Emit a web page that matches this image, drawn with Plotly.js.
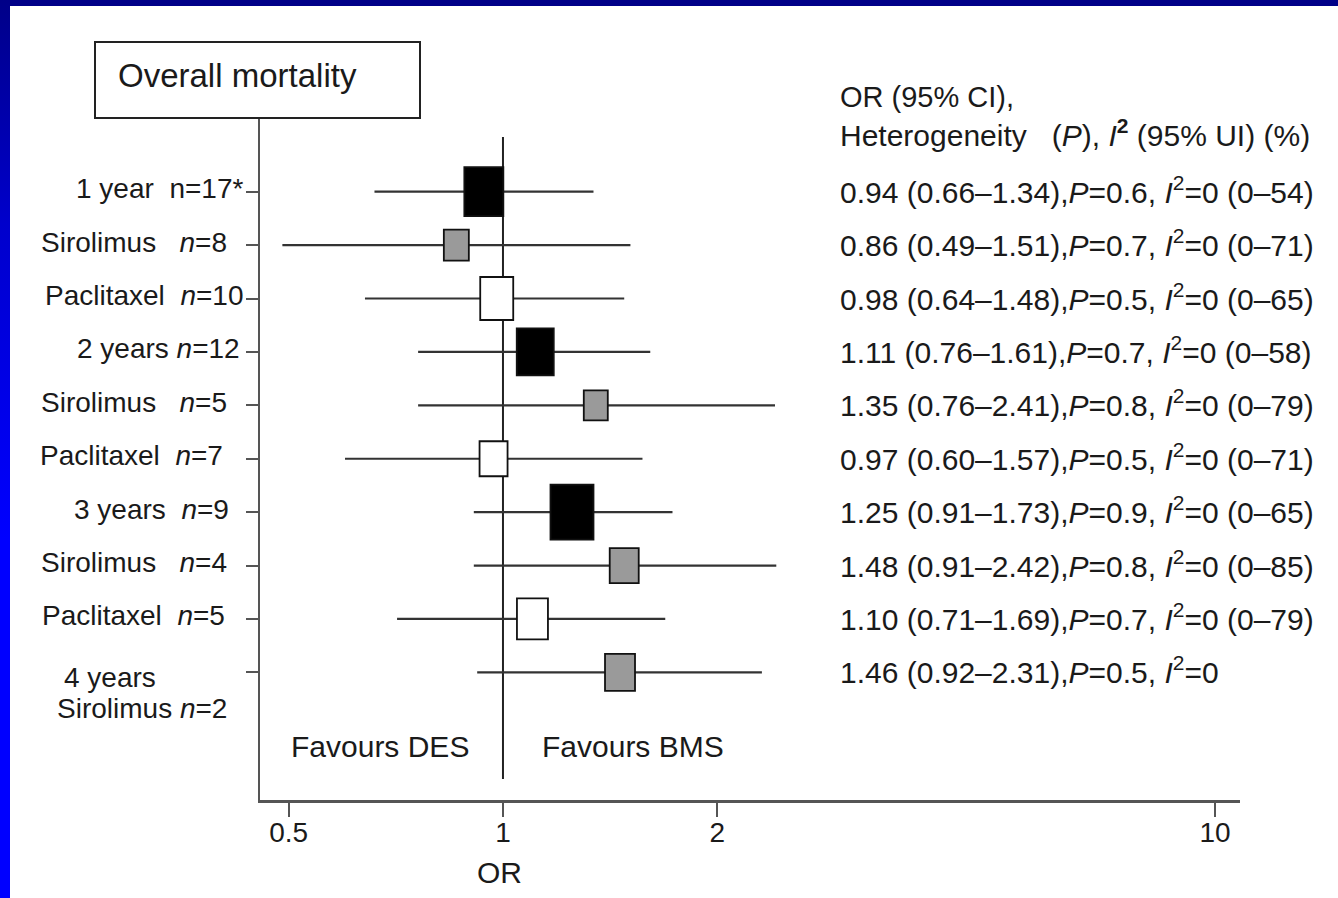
<!DOCTYPE html>
<html><head><meta charset="utf-8">
<script src="https://cdn.plot.ly/plotly-3.0.1.min.js"></script>
<style>
html,body{margin:0;padding:0;width:1338px;height:898px;overflow:hidden;background:#000088;}
#band{position:absolute;left:0;top:0;width:10px;height:898px;background:linear-gradient(to bottom,#000088 0%,#0000cc 25%,#0000ff 60%,#0000ff 100%);}
#chart{position:absolute;left:10px;top:6px;width:1328px;height:892px;background:#fff;}
</style></head><body><div id="band"></div><div id="chart"></div>
<script>
// ---- data ----
const rowLabels = [
  "1 year\u00A0 n=17*",
  "Sirolimus\u00A0\u00A0 <i>n</i>=8",
  "Paclitaxel\u00A0 <i>n</i>=10",
  "2 years <i>n</i>=12",
  "Sirolimus\u00A0\u00A0 <i>n</i>=5",
  "Paclitaxel\u00A0 <i>n</i>=7",
  "3 years\u00A0 <i>n</i>=9",
  "Sirolimus\u00A0\u00A0 <i>n</i>=4",
  "Paclitaxel\u00A0 <i>n</i>=5",
  "4 years"
];
const lastRowSubLabel = "Sirolimus <i>n</i>=2";
const rowGroups = ["overall","sirolimus","paclitaxel","overall","sirolimus","paclitaxel","overall","sirolimus","paclitaxel","sirolimus"];
const orValues = [0.94, 0.86, 0.98, 1.11, 1.35, 0.97, 1.25, 1.48, 1.10, 1.46];
const ciLower  = [0.66, 0.49, 0.64, 0.76, 0.76, 0.60, 0.91, 0.91, 0.71, 0.92];
const ciUpper  = [1.34, 1.51, 1.48, 1.61, 2.41, 1.57, 1.73, 2.42, 1.69, 2.31];
const pHet     = [0.6, 0.7, 0.5, 0.7, 0.8, 0.5, 0.9, 0.8, 0.7, 0.5];
const i2Value  = [0, 0, 0, 0, 0, 0, 0, 0, 0, 0];
const i2UiLow  = [0, 0, 0, 0, 0, 0, 0, 0, 0, null];
const i2UiHigh = [54, 71, 65, 58, 79, 71, 65, 85, 79, null];
const xTickVals = [0.5, 1, 2, 10];
const xTickText = ["0.5", "1", "2", "10"];
const headerLine1 = "OR (95% CI),";
const headerLine2 = "Heterogeneity\u00A0\u00A0 (<i>P</i>), <i>I</i><b><sup>2</sup></b> (95% UI) (%)";
const chartTitle = "Overall mortality";
const favoursLeft = "Favours DES";
const favoursRight = "Favours BMS";
const xAxisTitle = "OR";

// ---- styles ----
const FONT = '"Liberation Sans", Arial, Helvetica, sans-serif';
const TXT = '#1a1a1a';
const groupFill = {overall: '#000000', sirolimus: '#9a9a9a', paclitaxel: '#ffffff'};
const boxW = [39, 25, 33, 37, 24, 28, 43, 29, 31, 30];
const boxH = [49, 31, 43, 47, 30, 35, 55, 35, 41, 37];
const labelEndPx = [245, 229, 245, 242, 229, 225, 231, 229, 227];
// plot area in page px: x 260..1240, y 118..800
const PL = 260, PR = 1240, PT = 118, PB = 800;
const px2paperX = p => (p - PL) / (PR - PL);
const px2paperY = p => (PB - p) / (PB - PT);
const xRangeLog = [Math.log10(0.4558), Math.log10(10.84)];
const pxPerDecade = (PR - PL) / (xRangeLog[1] - xRangeLog[0]);
// widen a data value by a pixel offset along the log axis
const shiftLog = (v, dpx) => v * Math.pow(10, dpx / pxPerDecade);

const rows = orValues.map((_, i) => i);

// CI lines trace
const ciX = [], ciY = [];
rows.forEach(i => { ciX.push(ciLower[i], ciUpper[i], null); ciY.push(i, i, null); });
const traces = [{
  type: 'scatter', mode: 'lines', x: ciX, y: ciY,
  line: {color: '#333333', width: 2.2}, hoverinfo: 'skip', showlegend: false
}, {
  type: 'scatter', mode: 'markers', x: orValues, y: rows,
  marker: {size: 1, opacity: 0}, showlegend: false,
  hovertemplate: 'OR %{x}<extra></extra>'
}];

const shapes = [];
// reference line at OR = 1
shapes.push({type: 'line', xref: 'x', yref: 'paper', x0: 1, x1: 1,
  y0: px2paperY(779), y1: px2paperY(137), line: {color: '#222', width: 2}, layer: 'below'});
// boxes (weighted squares)
rows.forEach(i => {
  shapes.push({
    type: 'rect', xref: 'x', yref: 'y',
    ysizemode: 'pixel', yanchor: i,
    x0: shiftLog(orValues[i], -boxW[i] / 2), x1: shiftLog(orValues[i], boxW[i] / 2),
    y0: -boxH[i] / 2, y1: boxH[i] / 2,
    fillcolor: groupFill[rowGroups[i]], line: {color: '#111', width: 1.8}, layer: 'above'
  });
});
// title box
shapes.push({type: 'rect', xref: 'paper', yref: 'paper',
  x0: px2paperX(95), x1: px2paperX(420), y0: px2paperY(118), y1: px2paperY(42),
  line: {color: '#222', width: 2}, fillcolor: 'rgba(0,0,0,0)'});

const annotations = [];
annotations.push({xref: 'paper', yref: 'paper', x: px2paperX(116), y: px2paperY(75),
  xanchor: 'left', yanchor: 'middle', showarrow: false, text: chartTitle,
  font: {family: FONT, size: 33, color: TXT}});
// left labels
rows.slice(0, 9).forEach(i => {
  annotations.push({xref: 'paper', yref: 'y', x: px2paperX(labelEndPx[i]), y: i, yshift: 3,
    xanchor: 'right', yanchor: 'middle', showarrow: false, text: rowLabels[i],
    font: {family: FONT, size: 28, color: TXT}});
});
annotations.push({xref: 'paper', yref: 'y', x: px2paperX(62), y: 9, yshift: -5,
  xanchor: 'left', yanchor: 'middle', showarrow: false, text: rowLabels[9],
  font: {family: FONT, size: 28, color: TXT}});
annotations.push({xref: 'paper', yref: 'y', x: px2paperX(55), y: 9, yshift: -36,
  xanchor: 'left', yanchor: 'middle', showarrow: false, text: lastRowSubLabel,
  font: {family: FONT, size: 28, color: TXT}});
// right column
const fmt2 = v => v.toFixed(2);
rows.forEach(i => {
  let t = fmt2(orValues[i]) + ' (' + fmt2(ciLower[i]) + '\u2013' + fmt2(ciUpper[i]) + '),' +
    '<i>P</i>=' + pHet[i] + ', <i>I</i><sup>2</sup>=' + i2Value[i];
  if (i2UiLow[i] !== null) t += ' (' + i2UiLow[i] + '\u2013' + i2UiHigh[i] + ')';
  annotations.push({xref: 'paper', yref: 'y', x: px2paperX(838), y: i, yshift: 2,
    xanchor: 'left', yanchor: 'middle', showarrow: false, text: t,
    font: {family: FONT, size: 30, color: TXT}});
});
annotations.push({xref: 'paper', yref: 'paper', x: px2paperX(838), y: px2paperY(97),
  xanchor: 'left', yanchor: 'middle', showarrow: false, text: headerLine1,
  font: {family: FONT, size: 29, color: TXT}});
annotations.push({xref: 'paper', yref: 'paper', x: px2paperX(838), y: px2paperY(133),
  xanchor: 'left', yanchor: 'middle', showarrow: false, text: headerLine2,
  font: {family: FONT, size: 30, color: TXT}});
// favours
annotations.push({xref: 'paper', yref: 'paper', x: px2paperX(289), y: px2paperY(746),
  xanchor: 'left', yanchor: 'middle', showarrow: false, text: favoursLeft,
  font: {family: FONT, size: 30, color: TXT}});
annotations.push({xref: 'paper', yref: 'paper', x: px2paperX(540), y: px2paperY(746),
  xanchor: 'left', yanchor: 'middle', showarrow: false, text: favoursRight,
  font: {family: FONT, size: 30, color: TXT}});
// x axis title, placed under OR = 1
annotations.push({xref: 'paper', yref: 'paper', x: px2paperX(499), y: px2paperY(873),
  xanchor: 'center', yanchor: 'middle', showarrow: false, text: xAxisTitle,
  font: {family: FONT, size: 30, color: TXT}});

const layout = {
  width: 1328, height: 892,
  margin: {l: PL - 10, r: 1338 - PR, t: PT - 6, b: 898 - PB, pad: 0},
  paper_bgcolor: '#ffffff', plot_bgcolor: '#ffffff',
  showlegend: false,
  xaxis: {
    type: 'log', range: xRangeLog,
    tickmode: 'array', tickvals: xTickVals, ticktext: xTickText,
    ticks: 'outside', ticklen: 14, tickwidth: 2, tickcolor: '#555',
    ticklabelstandoff: -8,
    showline: true, linecolor: '#555', linewidth: 2.5,
    showgrid: false, zeroline: false, automargin: false,
    tickfont: {family: FONT, size: 28, color: TXT}
  },
  yaxis: {
    range: [11.39, -1.38], tickmode: 'array', tickvals: rows, showticklabels: false,
    ticks: 'outside', ticklen: 12, tickwidth: 2, tickcolor: '#555',
    showline: true, linecolor: '#555', linewidth: 2.5,
    showgrid: false, zeroline: false, automargin: false, fixedrange: true
  },
  shapes: shapes,
  annotations: annotations,
  font: {family: FONT, color: TXT}
};
Plotly.newPlot('chart', traces, layout, {displayModeBar: false, staticPlot: true});
</script></body></html>
